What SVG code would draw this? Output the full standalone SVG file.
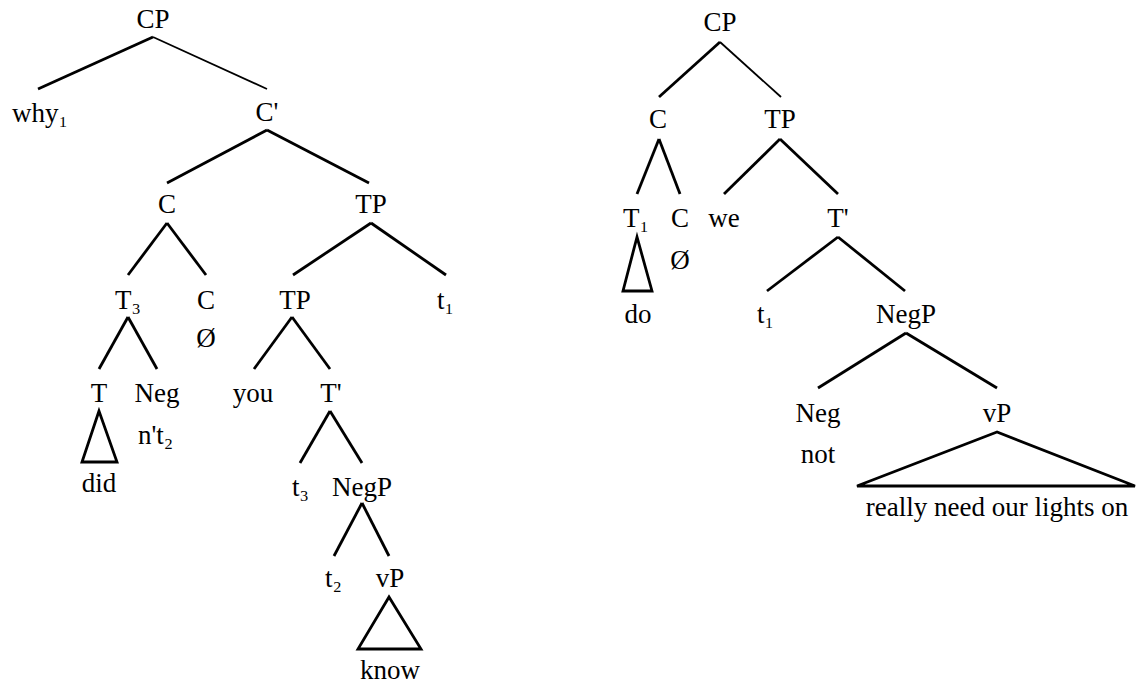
<svg xmlns="http://www.w3.org/2000/svg" width="1136" height="683" viewBox="0 0 1136 683">
<style>
line,polygon{stroke:#000;stroke-width:2.8;fill:none;stroke-linecap:butt}
line.thin{stroke-width:1.8}
.s{text-anchor:start}
</style>
<rect width="1136" height="683" fill="#fff"/>
<g id="connectors">
<line x1="153" y1="37" x2="38" y2="89"/>
<line class="thin" x1="153" y1="37" x2="267" y2="89"/>
<line x1="267" y1="130" x2="167" y2="183"/>
<line x1="267" y1="130" x2="369" y2="183"/>
<line x1="167" y1="223" x2="128" y2="275"/>
<line x1="167" y1="223" x2="206" y2="275"/>
<line x1="371" y1="223" x2="293" y2="275"/>
<line x1="371" y1="223" x2="446" y2="275"/>
<line x1="128" y1="317" x2="99" y2="369"/>
<line x1="128" y1="317" x2="157" y2="369"/>
<line x1="292" y1="317" x2="254" y2="369"/>
<line x1="292" y1="317" x2="330" y2="369"/>
<polygon points="99,411 82,462 117,462"/>
<line x1="330" y1="411" x2="300" y2="463"/>
<line x1="330" y1="411" x2="362" y2="463"/>
<line x1="362" y1="503" x2="334" y2="556"/>
<line x1="362" y1="503" x2="389" y2="556"/>
<polygon points="389,597 358,649 421,649"/>
<line x1="720" y1="42" x2="659" y2="97"/>
<line class="thin" x1="720" y1="42" x2="781" y2="97"/>
<line x1="659" y1="139" x2="637" y2="194"/>
<line x1="659" y1="139" x2="680" y2="194"/>
<line x1="780" y1="139" x2="724" y2="194"/>
<line x1="780" y1="139" x2="838" y2="194"/>
<polygon points="637,237 623,291 652,291"/>
<line x1="838" y1="237" x2="767" y2="291"/>
<line x1="838" y1="237" x2="905" y2="291"/>
<line x1="906" y1="333" x2="818" y2="388"/>
<line x1="906" y1="333" x2="997" y2="388"/>
<polygon points="997,432 857,486 1135,486"/>
</g>
<g font-family="Liberation Serif, Times New Roman, Times, serif" font-size="27" fill="#000" text-anchor="middle">
<g id="L-CP"><text x="153" y="28">CP</text></g>
<g id="L-why"><text class="s" x="12" y="122">why₁</text></g>
<g id="L-Cbar"><text x="267" y="121">C'</text></g>
<g id="L-C"><text x="167" y="213">C</text></g>
<g id="L-TP"><text x="371" y="213">TP</text></g>
<g id="L-T3"><text class="s" x="115" y="309">T₃</text></g>
<g id="L-C2"><text x="206" y="309">C</text><text x="206" y="347">Ø</text></g>
<g id="L-TP2"><text x="295" y="309">TP</text></g>
<g id="L-t1"><text class="s" x="437" y="309">t₁</text></g>
<g id="L-T"><text x="99" y="402">T</text></g>
<g id="L-did"><text x="99" y="492">did</text></g>
<g id="L-Neg"><text x="157" y="402">Neg</text><text class="s" x="138" y="444">n't₂</text></g>
<g id="L-you"><text x="253" y="402">you</text></g>
<g id="L-Tbar"><text x="331" y="402">T'</text></g>
<g id="L-t3"><text class="s" x="292" y="496">t₃</text></g>
<g id="L-NegP"><text x="362" y="496">NegP</text></g>
<g id="L-t2"><text class="s" x="325" y="587">t₂</text></g>
<g id="L-vP"><text x="390" y="587">vP</text></g>
<g id="L-know"><text x="390" y="679">know</text></g>
<g id="R-CP"><text x="720" y="31">CP</text></g>
<g id="R-C"><text x="658" y="128">C</text></g>
<g id="R-TP"><text x="780" y="128">TP</text></g>
<g id="R-T1"><text class="s" x="623" y="227">T₁</text></g>
<g id="R-do"><text x="638" y="323">do</text></g>
<g id="R-C2"><text x="680" y="227">C</text><text x="680" y="269">Ø</text></g>
<g id="R-we"><text x="724" y="227">we</text></g>
<g id="R-Tbar"><text x="838" y="227">T'</text></g>
<g id="R-t1"><text class="s" x="757" y="323">t₁</text></g>
<g id="R-NegP"><text x="906" y="323">NegP</text></g>
<g id="R-Neg"><text x="818" y="422">Neg</text><text x="818" y="463">not</text></g>
<g id="R-vP"><text x="997" y="422">vP</text></g>
<g id="R-vPtext"><text x="997" y="516">really need our lights on</text></g>
</g>
</svg>
